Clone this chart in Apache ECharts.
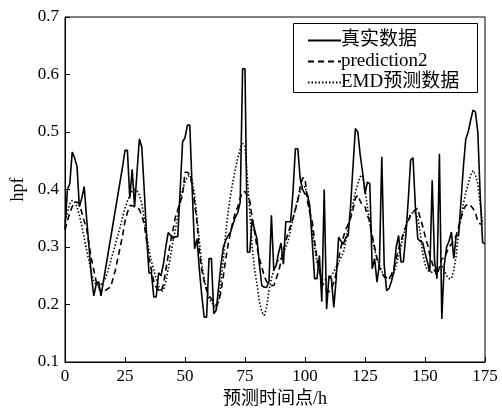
<!DOCTYPE html>
<html>
<head>
<meta charset="utf-8">
<script src="https://cdn.jsdelivr.net/npm/echarts@6/dist/echarts.min.js"></script>
<style>
  html, body { margin: 0; padding: 0; background: #fff; }
  #chart { width: 502px; height: 408px; }
</style>
</head>
<body>
<div id="chart"></div>
<script>
  // 真实数据, t = 0..175
  var realData = [
    0.33, 0.40, 0.41, 0.465, 0.455, 0.44, 0.37, 0.385, 0.405, 0.35,
    0.30, 0.25, 0.215, 0.235, 0.24, 0.215, 0.24, 0.265, 0.29, 0.315,
    0.34, 0.365, 0.39, 0.415, 0.44, 0.468, 0.468, 0.385, 0.435, 0.37,
    0.43, 0.488, 0.474, 0.40, 0.32, 0.255, 0.255, 0.213, 0.213, 0.255,
    0.25, 0.27, 0.30, 0.325, 0.32, 0.315, 0.318, 0.318, 0.40, 0.483,
    0.49, 0.512, 0.512, 0.40, 0.297, 0.314, 0.26, 0.215, 0.178, 0.178,
    0.28, 0.28, 0.184, 0.19, 0.23, 0.27, 0.30, 0.312, 0.32, 0.326,
    0.34, 0.352, 0.36, 0.378, 0.61, 0.61, 0.291, 0.291, 0.349, 0.33,
    0.314, 0.27, 0.233, 0.23, 0.23, 0.24, 0.355, 0.26, 0.268, 0.29,
    0.307, 0.27, 0.344, 0.344, 0.344, 0.396, 0.471, 0.471, 0.419, 0.40,
    0.392, 0.392, 0.372, 0.31, 0.245, 0.245, 0.285, 0.205, 0.40, 0.192,
    0.25, 0.245, 0.195, 0.245, 0.317, 0.31, 0.305, 0.317, 0.32, 0.372,
    0.44, 0.506, 0.50, 0.46, 0.43, 0.393, 0.413, 0.41, 0.262, 0.28,
    0.239, 0.27, 0.457, 0.268, 0.224, 0.228, 0.24, 0.257, 0.30, 0.32,
    0.274, 0.274, 0.32, 0.38, 0.451, 0.455, 0.37, 0.314, 0.31, 0.308,
    0.29, 0.274, 0.257, 0.416, 0.274, 0.245, 0.462, 0.175, 0.268, 0.30,
    0.31, 0.326, 0.28, 0.32, 0.32, 0.38, 0.44, 0.488, 0.50, 0.52,
    0.538, 0.535, 0.50, 0.39, 0.308, 0.305
  ];

  // prediction2
  var pred2Data = [
    0.33, 0.345, 0.36, 0.37, 0.378, 0.378, 0.375, 0.36, 0.345, 0.332,
    0.305, 0.28, 0.26, 0.24, 0.23, 0.222, 0.222, 0.225, 0.228, 0.23,
    0.245, 0.26, 0.28, 0.30, 0.32, 0.345, 0.36, 0.372, 0.372, 0.37,
    0.37, 0.365, 0.355, 0.34, 0.31, 0.28, 0.26, 0.24, 0.23, 0.225,
    0.222, 0.235, 0.26, 0.285, 0.31, 0.33, 0.352, 0.365, 0.378, 0.39,
    0.43, 0.43, 0.425, 0.407, 0.375, 0.344, 0.29, 0.26, 0.24, 0.225,
    0.215, 0.21, 0.205, 0.198, 0.205, 0.222, 0.25, 0.28, 0.305, 0.326,
    0.345, 0.36, 0.37, 0.385, 0.396, 0.396, 0.39, 0.38, 0.35, 0.326,
    0.30, 0.28, 0.265, 0.25, 0.24, 0.235, 0.233, 0.233, 0.245, 0.257,
    0.275, 0.295, 0.31, 0.325, 0.337, 0.35, 0.365, 0.38, 0.405, 0.42,
    0.42, 0.38, 0.36, 0.345, 0.31, 0.28, 0.26, 0.24, 0.232, 0.225,
    0.222, 0.228, 0.238, 0.255, 0.28, 0.30, 0.318, 0.33, 0.34, 0.35,
    0.365, 0.385, 0.39, 0.38, 0.372, 0.37, 0.355, 0.344, 0.32, 0.30,
    0.28, 0.265, 0.255, 0.248, 0.245, 0.245, 0.252, 0.262, 0.28, 0.297,
    0.31, 0.325, 0.335, 0.345, 0.355, 0.36, 0.365, 0.367, 0.35, 0.337,
    0.32, 0.305, 0.285, 0.272, 0.26, 0.25, 0.265, 0.28, 0.28, 0.29,
    0.30, 0.305, 0.312, 0.32, 0.335, 0.35, 0.365, 0.372, 0.375, 0.372,
    0.367, 0.36, 0.344, 0.34, 0.34
  ];

  // EMD预测数据
  var emdData = [
    0.345, 0.36, 0.375, 0.381, 0.378, 0.37, 0.355, 0.337, 0.315, 0.295,
    0.275, 0.255, 0.24, 0.235, 0.233, 0.235, 0.24, 0.247, 0.26, 0.275,
    0.29, 0.305, 0.32, 0.335, 0.352, 0.367, 0.38, 0.39, 0.397, 0.40,
    0.398, 0.39, 0.375, 0.35, 0.32, 0.295, 0.275, 0.26, 0.245, 0.232,
    0.222, 0.225, 0.24, 0.262, 0.285, 0.31, 0.33, 0.355, 0.38, 0.40,
    0.413, 0.422, 0.425, 0.415, 0.39, 0.35, 0.31, 0.27, 0.245, 0.225,
    0.21, 0.205, 0.198, 0.192, 0.205, 0.24, 0.28, 0.325, 0.362, 0.39,
    0.415, 0.436, 0.455, 0.47, 0.48, 0.475, 0.42, 0.36, 0.30, 0.26,
    0.235, 0.205, 0.187, 0.181, 0.195, 0.225, 0.245, 0.26, 0.27, 0.278,
    0.28, 0.29, 0.30, 0.31, 0.33, 0.35, 0.367, 0.385, 0.396, 0.403,
    0.405, 0.39, 0.36, 0.33, 0.30, 0.274, 0.258, 0.245, 0.243, 0.244,
    0.245, 0.25, 0.257, 0.265, 0.274, 0.282, 0.29, 0.31, 0.335, 0.355,
    0.375, 0.395, 0.41, 0.422, 0.425, 0.40, 0.37, 0.34, 0.315, 0.295,
    0.28, 0.268, 0.258, 0.25, 0.247, 0.245, 0.248, 0.255, 0.268, 0.285,
    0.30, 0.32, 0.335, 0.348, 0.357, 0.36, 0.358, 0.35, 0.325, 0.29,
    0.27, 0.26, 0.257, 0.256, 0.26, 0.262, 0.265, 0.268, 0.26, 0.25,
    0.245, 0.245, 0.26, 0.285, 0.33, 0.35, 0.375, 0.395, 0.41, 0.425,
    0.433, 0.425, 0.41, 0.375, 0.34
  ];

  var seriesNames = ['真实数据', 'prediction2', 'EMD预测数据'];
  var xTicks = [0, 175, 25];      // min, max, interval
  var yTicks = [0.1, 0.7, 0.1];

  var FONT = '"Liberation Serif", "Times New Roman", "Noto Sans CJK SC", serif';

  function pairs(arr) {
    return arr.map(function (v, i) { return [i, v]; });
  }

  var chart = echarts.init(document.getElementById('chart'), null, { renderer: 'canvas' });
  chart.setOption({
    animation: false,
    backgroundColor: '#fff',
    grid: {
      left: 65, right: 17, top: 17, bottom: 46,
      outerBoundsMode: 'none',
      show: true, borderColor: '#000', borderWidth: 1
    },
    // 图例外框
    graphic: [{
      type: 'rect', left: 293, top: 23, z: 90,
      shape: { width: 184, height: 69 },
      style: { fill: '#fff', stroke: '#000', lineWidth: 1 }
    }],
    legend: {
      data: seriesNames,
      orient: 'vertical',
      left: 293, top: 24, z: 100,
      padding: [7, 0, 4, 14],
      itemGap: 2,
      itemWidth: 33, itemHeight: 14,
      itemStyle: { opacity: 0 },
      textStyle: { fontFamily: FONT, fontSize: 19, color: '#000', padding: [0, 0, 0, -5] }
    },
    xAxis: {
      type: 'value',
      min: xTicks[0], max: xTicks[1], interval: xTicks[2],
      name: '预测时间点/h',
      nameLocation: 'middle',
      nameGap: 24,
      nameTextStyle: { fontFamily: FONT, fontSize: 18, color: '#000' },
      axisLine: { lineStyle: { color: '#000', width: 1 } },
      axisTick: { inside: true, length: 5, lineStyle: { color: '#000' } },
      axisLabel: { fontFamily: FONT, fontSize: 17, color: '#000', margin: 6 },
      splitLine: { show: false }
    },
    yAxis: {
      type: 'value',
      min: yTicks[0], max: yTicks[1], interval: yTicks[2],
      name: 'hpf',
      nameLocation: 'middle',
      nameGap: 38,
      nameRotate: 90,
      nameTextStyle: { fontFamily: FONT, fontSize: 18, color: '#000' },
      axisLine: { lineStyle: { color: '#000', width: 1 } },
      axisTick: { inside: true, length: 5, lineStyle: { color: '#000' } },
      axisLabel: {
        fontFamily: FONT, fontSize: 17, color: '#000', margin: 6,
        formatter: function (v) { return v.toFixed(1); }
      },
      splitLine: { show: false }
    },
    series: [
      {
        name: seriesNames[0], type: 'line', data: pairs(realData),
        symbol: 'none', z: 3,
        itemStyle: { color: '#000' },
        lineStyle: { color: '#000', width: 1.6, type: 'solid' }
      },
      {
        name: seriesNames[1], type: 'line', data: pairs(pred2Data),
        symbol: 'none', z: 2,
        itemStyle: { color: '#000' },
        lineStyle: { color: '#000', width: 1.6, type: [6, 4] }
      },
      {
        name: seriesNames[2], type: 'line', data: pairs(emdData),
        symbol: 'none', z: 1,
        itemStyle: { color: '#000' },
        lineStyle: { color: '#000', width: 1.6, type: [1.5, 2] }
      }
    ]
  });
</script>
</body>
</html>
